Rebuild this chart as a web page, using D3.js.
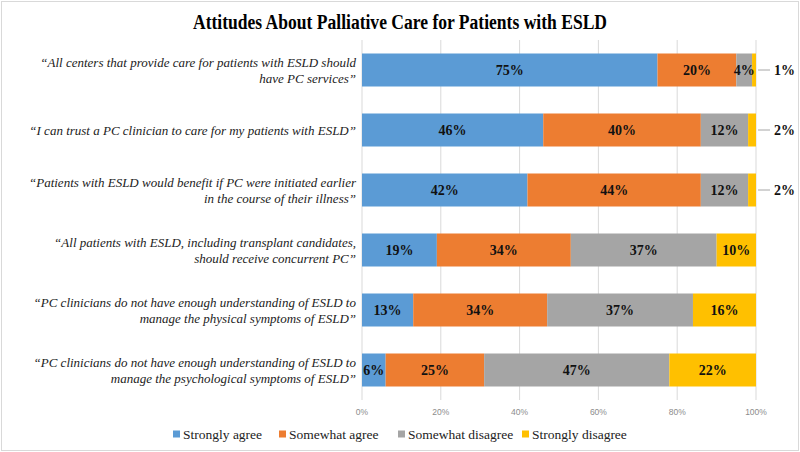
<!DOCTYPE html>
<html>
<head>
<meta charset="utf-8">
<script src="https://cdn.jsdelivr.net/npm/d3@7"></script>
<style>
  body { margin: 0; background: #fff; }
  svg { display: block; }
</style>
</head>
<body>
<div id="chart"></div>
<script>
// statements, top to bottom
const statements = [
  ["\u201CAll centers that provide care for patients with ESLD should", "have PC services\u201D"],
  ["\u201CI can trust a PC clinician to care for my patients with ESLD\u201D"],
  ["\u201CPatients with ESLD would benefit if PC were initiated earlier", "in the course of their illness\u201D"],
  ["\u201CAll patients with ESLD, including transplant candidates,", "should receive concurrent PC\u201D"],
  ["\u201CPC clinicians do not have enough understanding of ESLD to", "manage the physical symptoms of ESLD\u201D"],
  ["\u201CPC clinicians do not have enough understanding of ESLD to", "manage the psychological symptoms of ESLD\u201D"]
];
const seriesNames = ["Strongly agree", "Somewhat agree", "Somewhat disagree", "Strongly disagree"];
const stronglyAgree    = [75, 46, 42, 19, 13, 6];
const somewhatAgree    = [20, 40, 44, 34, 34, 25];
const somewhatDisagree = [4, 12, 12, 37, 37, 47];
const stronglyDisagree = [1, 2, 2, 10, 16, 22];
const tickValues = [0, 20, 40, 60, 80, 100];
const colors = ["#5B9BD5", "#ED7D31", "#A5A5A5", "#FFC000"];

const width = 800, height = 452;
const margin = {top: 40, right: 44, bottom: 52, left: 362};
const serif = "'Liberation Serif', 'Times New Roman', serif";
const sans = "'Liberation Sans', Arial, sans-serif";

const svg = d3.select("#chart").append("svg")
  .attr("width", width)
  .attr("height", height);

svg.append("rect")
  .attr("x", 1.5).attr("y", 1.5)
  .attr("width", width - 3).attr("height", height - 3)
  .attr("fill", "#fff").attr("stroke", "#d9d9d9");

svg.append("text")
  .attr("x", width / 2).attr("y", 29)
  .attr("text-anchor", "middle")
  .style("font-family", serif)
  .style("font-weight", "bold")
  .style("font-size", "20px")
  .attr("textLength", 414)
  .attr("lengthAdjust", "spacingAndGlyphs")
  .text("Attitudes About Palliative Care for Patients with ESLD");

const x = d3.scaleLinear().domain([0, 100]).range([margin.left, width - margin.right]);
const y = d3.scaleBand().domain(d3.range(statements.length))
  .range([margin.top, height - margin.bottom]).paddingInner(0.45).paddingOuter(0.225);

/* gridlines */
svg.append("g").selectAll("line")
  .data(tickValues).join("line")
  .attr("x1", d => x(d)).attr("x2", d => x(d))
  .attr("y1", margin.top).attr("y2", height - margin.bottom)
  .attr("stroke", "#d9d9d9").attr("stroke-width", 1);

/* tick labels */
svg.append("g").selectAll("text")
  .data(tickValues).join("text")
  .attr("x", d => x(d)).attr("y", height - margin.bottom + 15)
  .attr("text-anchor", "middle")
  .style("font-family", sans)
  .style("font-size", "8.5px")
  .attr("fill", "#8c8c8c")
  .text(d => d + "%");

/* stacked data */
const table = statements.map((s, i) => {
  const vals = [stronglyAgree[i], somewhatAgree[i], somewhatDisagree[i], stronglyDisagree[i]];
  const o = {i: i};
  seriesNames.forEach((n, k) => o[n] = vals[k]);
  return o;
});
const stack = d3.stack().keys(seriesNames)(table);

const seriesG = svg.append("g").selectAll("g")
  .data(stack).join("g")
  .attr("fill", (d, k) => colors[k]);

seriesG.selectAll("rect")
  .data(d => d).join("rect")
  .attr("x", d => x(d[0]))
  .attr("y", d => y(d.data.i))
  .attr("width", d => x(d[1]) - x(d[0]))
  .attr("height", y.bandwidth());

/* data labels */
stack.forEach((s, k) => {
  s.forEach(d => {
    const v = d[1] - d[0];
    const cy = y(d.data.i) + y.bandwidth() / 2;
    let lx, anchor;
    if (v >= 3) {
      lx = (x(d[0]) + x(d[1])) / 2;
      anchor = "middle";
    } else {
      // small slice: callout to the right of the bar
      svg.append("line")
        .attr("x1", x(d[1]) + 2).attr("x2", x(d[1]) + 14)
        .attr("y1", cy).attr("y2", cy)
        .attr("stroke", "#a6a6a6").attr("stroke-width", 1);
      lx = x(d[1]) + 18;
      anchor = "start";
    }
    svg.append("text")
      .attr("x", lx)
      .attr("y", cy)
      .attr("dy", "0.35em")
      .attr("text-anchor", anchor)
      .style("font-family", serif)
      .style("font-weight", "bold")
      .style("font-size", "14px")
      .attr("fill", "#111")
      .text(v + "%");
  });
});

/* category labels */
const catG = svg.append("g");
statements.forEach((lines, i) => {
  const cy = y(i) + y.bandwidth() / 2;
  const lh = 16;
  const t = catG.append("text")
    .attr("text-anchor", "end")
    .style("font-family", serif)
    .style("font-style", "italic")
    .style("font-size", "13px")
    .attr("fill", "#222");
  lines.forEach((ln, j) => {
    t.append("tspan")
      .attr("x", margin.left - 6)
      .attr("y", cy + (j - (lines.length - 1) / 2) * lh)
      .attr("dy", "0.35em")
      .text(ln);
  });
});

/* legend */
const legendY = 434;
const legendX = [173, 279, 398, 522];
const legend = svg.append("g").selectAll("g")
  .data(seriesNames).join("g")
  .attr("transform", (d, k) => `translate(${legendX[k]},${legendY})`);
legend.append("rect")
  .attr("x", 0).attr("y", -3.5).attr("width", 7).attr("height", 7)
  .attr("fill", (d, k) => colors[k]);
legend.append("text")
  .attr("x", 10).attr("y", 0).attr("dy", "0.35em")
  .style("font-family", serif)
  .style("font-size", "13.5px")
  .attr("fill", "#222")
  .text(d => d);
</script>
</body>
</html>
